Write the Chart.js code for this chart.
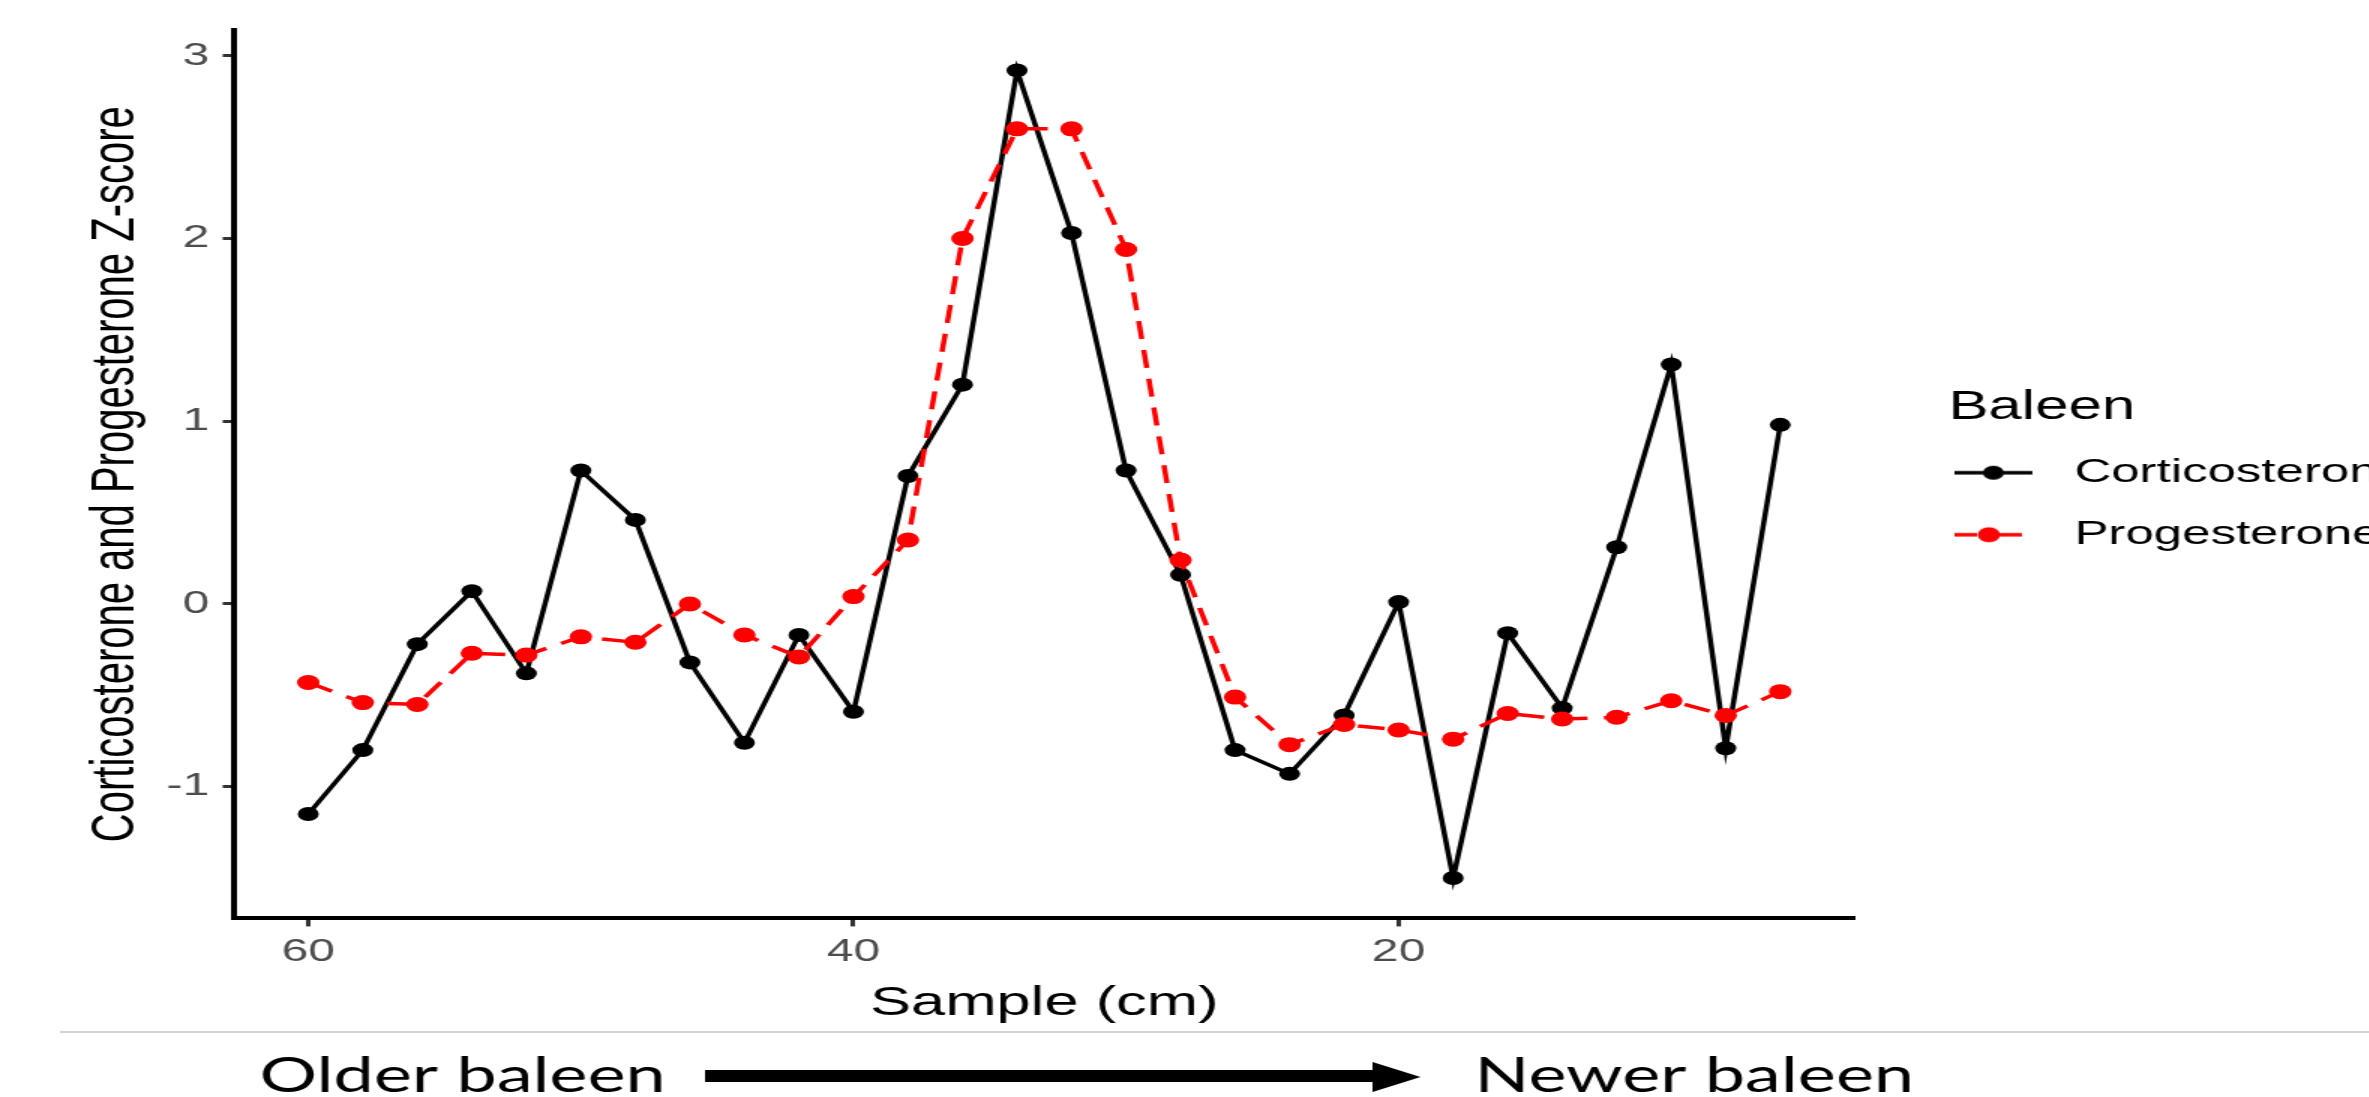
<!DOCTYPE html>
<html>
<head>
<meta charset="utf-8">
<script src="https://cdn.jsdelivr.net/npm/chart.js@4.4.0/dist/chart.umd.min.js"></script>
<style>
  html, body { margin: 0; padding: 0; background: #fff; overflow: hidden; }
  /* the reference is a horizontally stretched ggplot export, so the whole drawing is stretched too */
  #wrap { width: 1614px; height: 1097px; transform: scaleX(1.5); transform-origin: 0 0; }
</style>
</head>
<body>
<div id="wrap"><canvas id="baleen-chart" width="1614" height="1097"></canvas></div>
<script>
const sampleCm = [60, 58, 56, 54, 52, 50, 48, 46, 44, 42, 40, 38, 36, 34, 32, 30, 28, 26, 24, 22, 20, 18, 16, 14, 12, 10, 8, 6];
const corticosterone = [-1.15, -0.80, -0.22, 0.07, -0.38, 0.73, 0.46, -0.32, -0.76, -0.17, -0.59, 0.70, 1.20, 2.92, 2.03, 0.73, 0.16, -0.80, -0.93, -0.61, 0.01, -1.50, -0.16, -0.57, 0.31, 1.31, -0.79, 0.98];
const progesterone = [-0.43, -0.54, -0.55, -0.27, -0.28, -0.18, -0.21, 0.00, -0.17, -0.29, 0.04, 0.35, 2.00, 2.60, 2.60, 1.94, 0.24, -0.51, -0.77, -0.66, -0.69, -0.74, -0.60, -0.63, -0.62, -0.53, -0.61, -0.48];
const seriesNames = ['Corticosterone', 'Progesterone'];
const xTicks = [60, 40, 20];
const yTicks = [-1, 0, 1, 2, 3];

const FONT = '"Liberation Sans", Arial, sans-serif';
const DASH = [18, 11];

function toPoints(values) {
    return sampleCm.map((x, i) => ({ x: x, y: values[i] }));
}

// legend key: line with a dot, drawn on a small canvas (left part only, rest transparent)
function legendKey(color, dashed) {
    const c = document.createElement('canvas');
    c.width = 87;
    c.height = 20;
    const g = c.getContext('2d');
    g.strokeStyle = color;
    g.fillStyle = color;
    g.lineWidth = 3.5;
    if (dashed) {
        g.beginPath(); g.moveTo(0, 10); g.lineTo(15, 10); g.stroke();
        g.beginPath(); g.moveTo(30, 10); g.lineTo(45, 10); g.stroke();
        g.beginPath(); g.arc(23, 10, 7.5, 0, Math.PI * 2); g.fill();
    } else {
        g.beginPath(); g.moveTo(0, 10); g.lineTo(52, 10); g.stroke();
        g.beginPath(); g.arc(26, 10, 7, 0, Math.PI * 2); g.fill();
    }
    return c;
}
const keys = [legendKey('#000000', false), legendKey('#ff0000', true)];

// gray rule and "Older baleen -> Newer baleen" strip under the plot
const footer = {
    id: 'footer',
    afterDraw(chart) {
        const ctx = chart.ctx;
        ctx.save();
        ctx.strokeStyle = '#d3d3d3';
        ctx.lineWidth = 2;
        ctx.beginPath();
        ctx.moveTo(40, 1032);
        ctx.lineTo(chart.width, 1032);
        ctx.stroke();

        ctx.fillStyle = '#000';
        ctx.font = '48px Lato, "Open Sans", sans-serif';
        ctx.textBaseline = 'alphabetic';
        ctx.fillText('Older baleen', 173, 1092);
        ctx.fillText('Newer baleen', 983, 1092);

        ctx.fillRect(470, 1070, 447, 12);
        ctx.beginPath();
        ctx.moveTo(915, 1062);
        ctx.lineTo(947, 1077);
        ctx.lineTo(915, 1092);
        ctx.closePath();
        ctx.fill();
        ctx.restore();
    }
};

const ctx = document.getElementById('baleen-chart').getContext('2d');
new Chart(ctx, {
    type: 'line',
    data: {
        datasets: [{
            label: seriesNames[0],
            data: toPoints(corticosterone),
            borderColor: '#000000',
            backgroundColor: '#000000',
            borderWidth: 3.5,
            pointRadius: 7,
            pointBorderWidth: 0,
            tension: 0,
            order: 1
        }, {
            label: seriesNames[1],
            data: toPoints(progesterone),
            borderColor: '#ff0000',
            backgroundColor: '#ff0000',
            borderWidth: 3.5,
            borderDash: DASH,
            pointRadius: 7.5,
            pointBorderWidth: 0,
            tension: 0,
            order: 0
        }]
    },
    options: {
        responsive: false,
        animation: false,
        layout: { padding: { left: 54, top: 30, right: 0, bottom: 63 } },
        plugins: {
            tooltip: { enabled: false },
            legend: {
                position: 'right',
                fullSize: false,
                align: 'center',
                maxWidth: 400,
                title: {
                    display: true,
                    text: 'Baleen',
                    position: 'start',
                    color: '#000',
                    font: { family: FONT, size: 40, lineHeight: 1 },
                    padding: { top: 19, bottom: 0 }
                },
                labels: {
                    usePointStyle: true,
                    pointStyleWidth: 39,
                    padding: 28,
                    color: '#000',
                    font: { family: FONT, size: 34 },
                    generateLabels(chart) {
                        const items = Chart.defaults.plugins.legend.labels.generateLabels(chart);
                        items.sort((a, b) => a.datasetIndex - b.datasetIndex);
                        items.forEach(item => { item.pointStyle = keys[item.datasetIndex]; });
                        return items;
                    }
                }
            }
        },
        scales: {
            x: {
                type: 'linear',
                reverse: true,
                min: 3.3,
                max: 62.7,
                afterBuildTicks(scale) { scale.ticks = xTicks.map(v => ({ value: v })); },
                grid: { display: true, drawOnChartArea: false, drawTicks: true, tickLength: 8, color: '#333333', lineWidth: 3 },
                border: { display: true, color: '#000000', width: 4 },
                ticks: { color: '#4d4d4d', padding: 7, maxRotation: 0, font: { family: FONT, size: 32 } },
                title: { display: true, text: 'Sample (cm)', color: '#000', padding: { top: 0, bottom: 6 }, font: { family: FONT, size: 41 } }
            },
            y: {
                type: 'linear',
                min: -1.721,
                max: 3.141,
                afterBuildTicks(scale) { scale.ticks = yTicks.map(v => ({ value: v })); },
                grid: { display: true, drawOnChartArea: false, drawTicks: true, tickLength: 8, color: '#333333', lineWidth: 3 },
                border: { display: true, color: '#000000', width: 4 },
                ticks: { color: '#4d4d4d', padding: 9, font: { family: FONT, size: 32 } },
                title: {
                    display: true,
                    text: 'Corticosterone and Progesterone Z-score',
                    color: '#000',
                    padding: { top: 0, bottom: 0 },
                    font: { family: FONT, size: 40 }
                }
            },
            // empty spacer between the plot and the legend
            gap: {
                type: 'linear',
                position: 'right',
                grid: { display: false },
                ticks: { display: false },
                border: { display: false },
                afterFit(scale) { scale.width = 63; }
            }
        }
    },
    plugins: [footer]
});
</script>
</body>
</html>
